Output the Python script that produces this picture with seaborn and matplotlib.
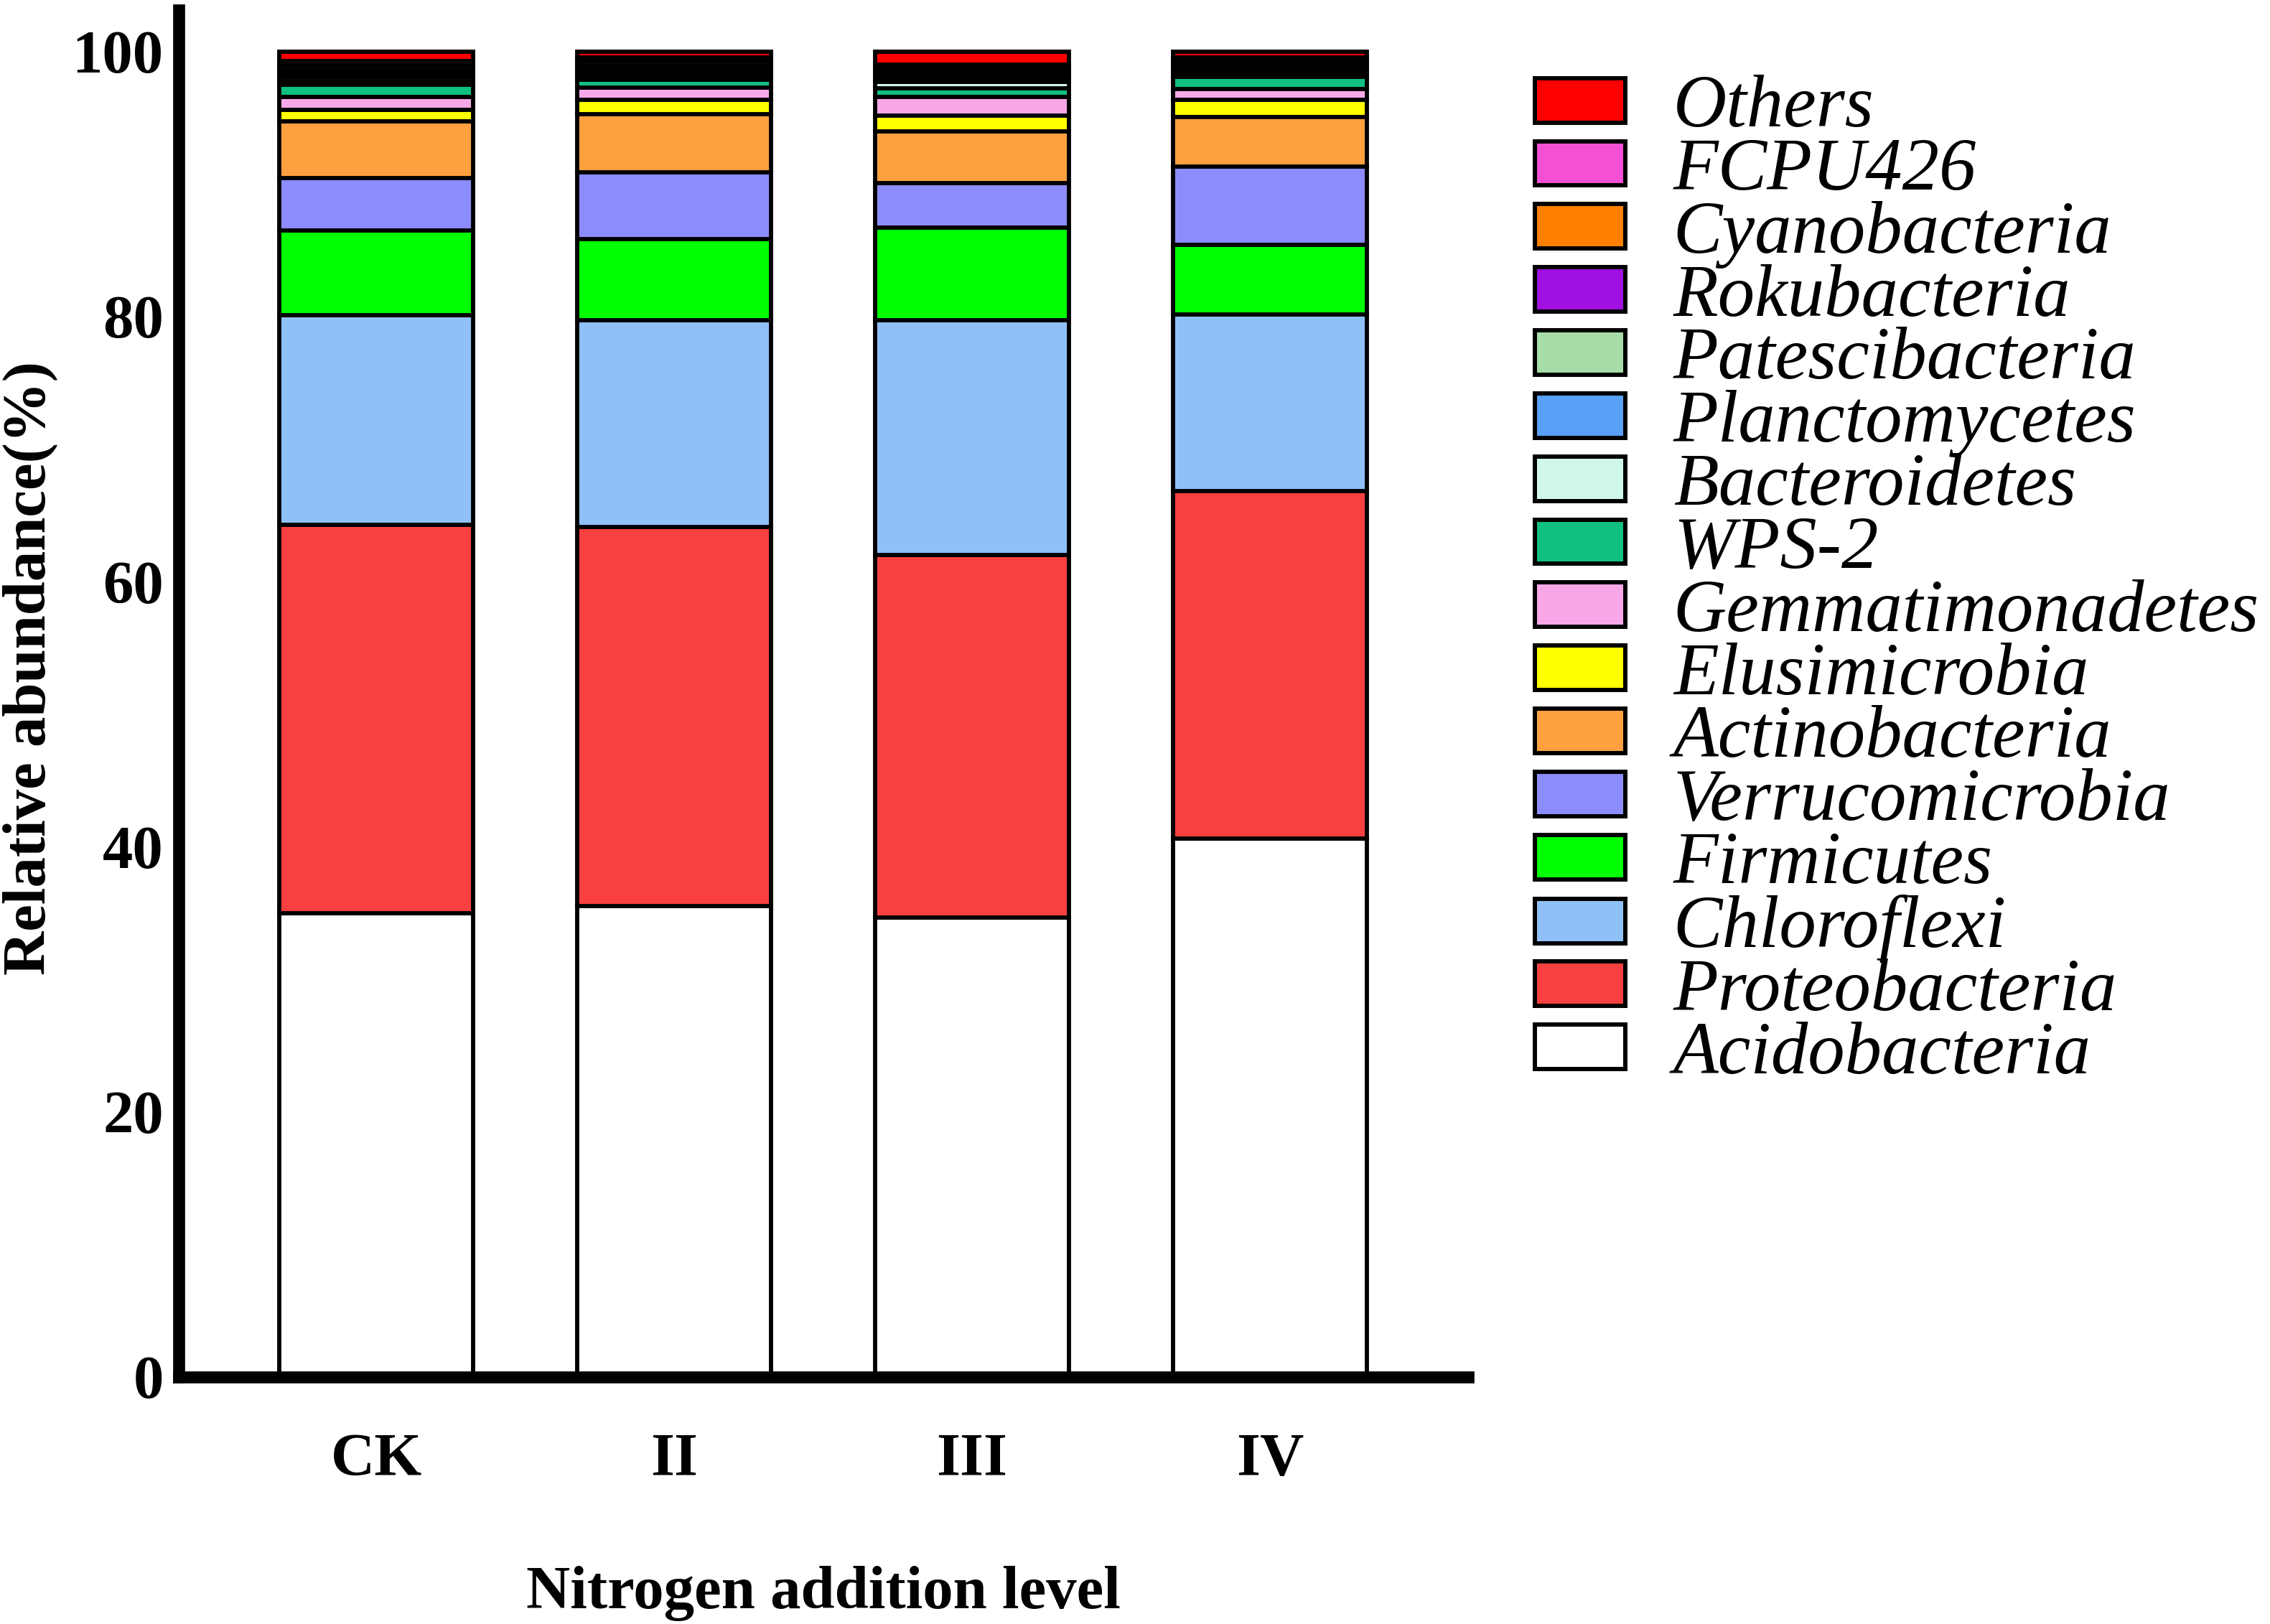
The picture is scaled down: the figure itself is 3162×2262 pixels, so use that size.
#relative abundance of bacterial phyla under nitrogen addition

import matplotlib
matplotlib.use('Agg')
import matplotlib.pyplot as plt
from matplotlib.patches import Patch
import pandas as pd
import seaborn as sns

groups = ['CK', 'II', 'III', 'IV']

# stack order, top to bottom (same as legend)
phyla = ['Others', 'FCPU426', 'Cyanobacteria', 'Rokubacteria', 'Patescibacteria',
         'Planctomycetes', 'Bacteroidetes', 'WPS-2', 'Gemmatimonadetes', 'Elusimicrobia',
         'Actinobacteria', 'Verrucomicrobia', 'Firmicutes', 'Chloroflexi',
         'Proteobacteria', 'Acidobacteria']

colors = ['#FF0000', '#F550D5', '#FF8000', '#A010E0', '#A8DCA8',
          '#58A0F8', '#D0F8E8', '#10C080', '#F8A8E8', '#FFFF00',
          '#FFA040', '#8C8CFF', '#00FF00', '#90C0F8',
          '#F84040', '#FFFFFF']

# relative abundance (%) per group: CK, II, III, IV
others = [0.72, 0.45, 1.00, 0.45]
fcpu426 = [0.31, 0.28, 0.27, 0.24]
cyanobacteria = [0.33, 0.31, 0.28, 0.26]
rokubacteria = [0.27, 0.25, 0.24, 0.23]
patescibacteria = [0.30, 0.27, 0.25, 0.24]
planctomycetes = [0.32, 0.29, 0.27, 0.26]
bacteroidetes = [0.28, 0.26, 0.45, 0.22]
wps2 = [0.90, 0.60, 0.69, 0.92]
gemmatimonadetes = [0.96, 0.92, 1.37, 0.84]
elusimicrobia = [0.88, 1.09, 1.20, 1.29]
actinobacteria = [4.27, 4.40, 3.93, 3.75]
verrucomicrobia = [3.94, 5.01, 3.33, 5.88]
firmicutes = [6.42, 6.12, 6.97, 5.24]
chloroflexi = [15.83, 15.61, 17.75, 13.35]
proteobacteria = [29.29, 28.62, 27.35, 26.20]
acidobacteria = [34.98, 35.52, 34.65, 40.63]

series = [others, fcpu426, cyanobacteria, rokubacteria, patescibacteria,
          planctomycetes, bacteroidetes, wps2, gemmatimonadetes, elusimicrobia,
          actinobacteria, verrucomicrobia, firmicutes, chloroflexi,
          proteobacteria, acidobacteria]

rows = []
for name, vals in zip(phyla, series):
    for i, v in enumerate(vals):
        rows.append({'pos': i, 'group': groups[i], 'phylum': name, 'value': v})
df = pd.DataFrame(rows)

sns.set_style('white')
plt.rcParams['font.family'] = ['Liberation Serif', 'DejaVu Serif']
plt.rcParams['font.weight'] = 'bold'
plt.rcParams['text.color'] = 'black'
plt.rcParams['axes.labelcolor'] = 'black'
plt.rcParams['xtick.color'] = 'black'
plt.rcParams['ytick.color'] = 'black'

fig = plt.figure(figsize=(31.62, 22.62), dpi=100)
ax = fig.add_axes([0.0786, 0.1521, 0.5680, 0.8415])

sns.histplot(data=df, x='pos', weights='value', hue='phylum', hue_order=phyla,
             palette=dict(zip(phyla, colors)), multiple='stack', discrete=True,
             shrink=0.65, alpha=1, edgecolor='black', linewidth=4.2,
             legend=False, ax=ax)

ax.set_xlim(-0.664, 3.664)
ax.set_ylim(0, 103.1)
ax.set_yticks([0, 20, 40, 60, 80, 100])
ax.set_xticks(range(len(groups)))
ax.set_xticklabels(groups)

for side in ['top', 'right']:
    ax.spines[side].set_visible(False)
for side in ['left', 'bottom']:
    ax.spines[side].set_linewidth(12)
    ax.spines[side].set_color('black')
    ax.spines[side].set_capstyle('projecting')

ax.tick_params(axis='y', direction='in', length=38, width=12, pad=15,
               labelsize=61, color='black', labelcolor='black')
ax.tick_params(axis='x', length=0, pad=56, labelsize=61, labelcolor='black')
for lab in ax.get_xticklabels() + ax.get_yticklabels():
    lab.set_fontweight('bold')

ax.set_xlabel('Nitrogen addition level', fontsize=61, fontweight='bold',
              va='top', color='black')
ax.xaxis.set_label_coords(0.5, -0.138)
ax.set_ylabel('Relative abundance(%)', fontsize=61, fontweight='bold', color='black')
ax.yaxis.set_label_coords(-0.0935, 0.519)

handles = [Patch(facecolor=c, edgecolor='black', linewidth=4.3) for c in colors]
leg = fig.legend(handles, phyla, loc='upper left', bbox_to_anchor=(0.676, 0.954),
                 frameon=False, prop={'family': 'Liberation Serif', 'style': 'italic',
                                      'weight': 'normal', 'size': 74},
                 handlelength=1.23, handleheight=0.55, handletextpad=0.65,
                 labelspacing=-0.06, borderpad=0, borderaxespad=0)
for t in leg.get_texts():
    t.set_color('black')

fig.savefig('out.png', dpi=100, facecolor='white')
